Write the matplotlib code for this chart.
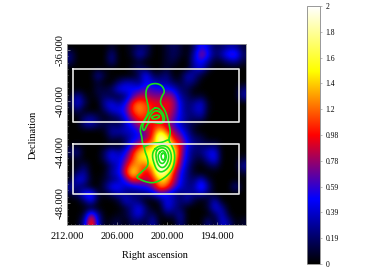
import numpy as np
import matplotlib
matplotlib.use('Agg')
import matplotlib.pyplot as plt
from matplotlib.colors import LinearSegmentedColormap
from matplotlib.ticker import MultipleLocator

# Mapa de intensidad (filas de norte a sur)
intensity = [
    [0, 0, 0, 0, 0, 0, .1, 0, 0, .1, .2, .2, 0, 0, .1, .2, .1, 0, .2, .6, .4, .15, .2, .3, .3, .1],
    [.25, 0, 0, 0, 0, 0, .3, 0, 0, .1, .4, .2, 0, 0, .1, .2, .1, 0, .35, .85, .55, .2, .35, .65, .7, .2],
    [.2, 0, 0, 0, 0, 0, .3, 0, 0, 0, .1, 0, 0, 0, .1, .15, 0, 0, .4, .55, .3, .05, .1, .25, .3, .1],
    [0, 0, 0, 0, 0, 0, 0, 0, 0, .1, .2, .1, 0, 0, .1, 0, 0, 0, .3, .45, .1, 0, 0, 0, 0, 0],
    [0, 0, 0, 0, .35, .1, 0, 0, 0, 0, .2, .6, .15, .15, .3, 0, .05, .4, .3, .1, 0, 0, 0, 0, 0, 0],
    [0, 0, 0, 0, .1, 0, 0, .2, .35, .35, .2, .5, .4, .3, .3, .15, .1, .3, .2, 0, 0, 0, 0, 0, 0, 0],
    [0, 0, 0, 0, .15, .1, .2, .5, .55, .5, .55, .7, .6, .55, .55, .45, .2, .15, 0, 0, 0, 0, 0, 0, 0, .25],
    [0, .4, .1, 0, .1, .2, .1, .1, .2, .6, .85, .85, .75, .75, .85, .75, .3, .2, .05, .1, 0, 0, 0, 0, 0, .35],
    [.1, .5, .2, 0, 0, .35, .5, .25, .5, 1.05, 1.25, 1.1, 1.0, .95, 1.0, .85, .45, .2, .3, .45, .05, 0, 0, 0, 0, 0],
    [0, .25, 0, 0, 0, .2, .45, .5, .6, 1.1, 1.3, 1.15, 1.0, .95, 1.0, .8, .45, .2, .35, .45, .05, 0, 0, 0, 0, 0],
    [0, 0, .2, .3, .15, 0, .1, .2, .5, .85, 1.1, 1.05, 1.0, 1.0, .95, .7, .45, .25, .2, .3, 0, 0, 0, 0, 0, 0],
    [0, 0, .3, .4, .2, .15, .2, .1, .35, .6, .9, .95, 1.0, 1.0, .85, .6, .35, .2, .1, 0, 0, 0, 0, 0, 0, 0],
    [0, 0, 0, 0, 0, .05, .35, .35, .4, .4, .6, .8, 1.0, 1.5, 1.1, .8, .55, .3, .05, 0, 0, 0, 0, 0, 0, 0],
    [0, 0, 0, 0, 0, 0, .2, .1, .2, .4, .5, .75, 1.1, 2.0, 1.6, .95, .8, .4, .2, .15, 0, 0, 0, 0, 0, 0],
    [0, .05, 0, 0, 0, 0, 0, 0, .2, .6, .95, 1.2, 1.3, 1.7, 1.7, 1.3, .95, .5, .25, .2, .15, .2, 0, 0, 0, 0],
    [.2, .3, 0, 0, 0, .2, .5, .3, .5, .95, 1.35, 1.5, 1.6, 2, 2, 1.6, .9, .4, .2, .25, .45, .5, 0, 0, 0, 0],
    [0, .1, 0, 0, 0, .2, .5, .4, .65, 1.05, 1.45, 1.5, 1.7, 2, 2, 1.5, .8, .4, .15, .1, .35, .55, 0, 0, 0, .1],
    [0, .05, .2, 0, 0, 0, .25, .4, .85, 1.3, 1.25, 1.1, 1.5, 2, 2, 1.3, .7, .3, .05, 0, .1, .2, 0, 0, 0, .35],
    [0, .2, .35, 0, 0, .05, .35, .45, 1.0, 1.55, 1.25, .9, 1.2, 2, 1.7, 1.0, .55, .25, .05, 0, 0, 0, 0, 0, 0, .1],
    [0, .5, .4, .05, 0, .1, .2, .3, .6, 1.05, .95, .85, 1.0, 1.4, 1.4, .9, .5, .25, .2, .45, .1, 0, 0, 0, 0, 0],
    [.35, .2, .15, 0, 0, .2, .55, .55, .35, .4, .5, .55, .75, 1.3, 1.15, .7, .45, .25, .3, .75, .3, 0, 0, 0, .35, 0],
    [.1, .2, .55, .7, .1, .05, .2, .35, .25, .2, .2, .25, .35, .6, .45, .3, .15, .35, .25, .35, .15, 0, 0, 0, 0, 0],
    [0, 0, .2, .55, .05, 0, 0, .1, .45, .3, .2, 0, 0, .15, .5, .35, .2, .35, .1, 0, .1, .4, 0, 0, 0, 0],
    [0, 0, 0, 0, 0, 0, 0, 0, .1, .3, .5, .2, 0, 0, .5, .3, .15, 0, 0, 0, .1, .5, .3, 0, 0, 0],
    [0, 0, .1, .9, .3, 0, 0, .05, .1, .3, .5, .15, .2, 0, .15, .15, .35, 0, 0, 0, 0, .15, .45, .05, 0, 0],
    [0, 0, .3, 1.25, .4, 0, .1, .15, 0, .2, .15, .1, .4, 0, 0, 0, .3, 0, 0, 0, .3, 0, .45, .3, 0, .1],
]

# Contornos verdes (RA, Dec)
outer_ra = [202.44, 202.04, 201.24, 200.56, 200.24, 200.64, 200.84, 200.24, 199.96, 199.72, 199.56, 199.82, 199.44, 199.04, 199.12, 199.64, 200.64, 201.64, 202.64, 203.52, 203.64, 203.24, 202.64, 202.24, 202.32, 202.64, 202.72, 202.96, 203.00, 203.20, 203.16, 202.84, 202.44, 202.16, 202.32, 202.56, 202.44]
outer_dec = [-39.00, -38.69, -38.61, -38.80, -39.27, -39.66, -40.18, -40.70, -41.23, -41.88, -42.53, -43.06, -43.45, -44.10, -45.02, -45.67, -46.19, -46.45, -46.33, -46.06, -45.93, -45.67, -45.35, -45.02, -44.49, -43.97, -43.58, -43.27, -42.82, -42.41, -42.01, -41.62, -41.23, -40.70, -40.18, -39.53, -39.00]
edge_ra = [202.72, 201.84, 200.64, 199.92, 199.82]
edge_dec = [-43.58, -43.31, -43.27, -43.06, -43.06]
upper2_ra = [201.64, 201.08, 200.44, 200.24, 200.60, 202.04, 202.40, 202.76, 203.00, 202.44, 201.64]
upper2_dec = [-40.57, -40.52, -40.96, -41.49, -41.80, -41.62, -41.88, -42.41, -42.01, -41.23, -40.57]
upper3_ra = [202.28, 202.04, 201.56, 200.96, 200.48, 200.48]
upper3_dec = [-41.65, -41.17, -40.78, -40.78, -41.17, -41.65]
upper4_ra = [201.84, 201.56, 201.04, 200.84, 201.24, 201.72, 201.84]
upper4_dec = [-41.31, -41.15, -41.10, -41.25, -41.41, -41.41, -41.31]
lower2_ra = [201.64, 201.04, 200.04, 199.52, 199.44, 199.84, 200.64, 201.24, 201.56, 201.76, 201.64]
lower2_dec = [-43.90, -43.53, -43.50, -43.97, -44.62, -45.27, -45.62, -45.41, -44.88, -44.37, -43.90]
lower3_ra = [201.36, 200.84, 200.16, 199.76, 199.84, 200.32, 200.84, 201.24, 201.36]
lower3_dec = [-43.97, -43.66, -43.71, -44.15, -44.76, -45.23, -45.20, -44.76, -43.97]
lower4_ra = [201.04, 200.56, 200.16, 200.04, 200.44, 200.84, 201.04, 201.04]
lower4_dec = [-44.15, -43.84, -44.05, -44.49, -44.94, -44.84, -44.49, -44.15]
lower5_ra = [200.72, 200.44, 200.16, 200.36, 200.64, 200.72]
lower5_dec = [-44.23, -44.02, -44.31, -44.68, -44.57, -44.23]

# Regiones rectangulares
box_ra = [211.28, 191.36]
box1_dec = [-37.53, -41.68]
box2_dec = [-43.41, -47.29]

ra_ticks = [212, 206, 200, 194]
dec_ticks = [-36, -40, -44, -48]
cbar_ticks = [0, .2, .4, .6, .8, 1.0, 1.2, 1.4, 1.6, 1.8, 2.0]
cbar_labels = ['0', '0.19', '0.39', '0.59', '0.78', '0.98', '1.2', '1.4', '1.6', '1.8', '2']


# Redondea las esquinas de un contorno para que no se vea quebrado
def round_corners(xs, ys, passes=2):
    p = np.column_stack([xs, ys])
    for _ in range(passes):
        a = 0.75 * p[:-1] + 0.25 * p[1:]
        b = 0.25 * p[:-1] + 0.75 * p[1:]
        mid = np.empty((2 * len(a), 2))
        mid[0::2] = a
        mid[1::2] = b
        if np.allclose(p[0], p[-1]):
            p = np.vstack([mid, mid[0]])
        else:
            p = np.vstack([p[0], mid, p[-1]])
    return p[:, 0], p[:, 1]


plt.rcParams['font.family'] = ['Liberation Serif', 'DejaVu Serif']
W, H = 374, 271
fig = plt.figure(figsize=(W / 100, H / 100), dpi=100)
ax = fig.add_axes([67 / W, 1 - 225 / H, 179 / W, 181 / H])

cmap = LinearSegmentedColormap.from_list('b', ['black', 'blue', 'red', 'yellow', 'white'])
xlim = (212.0, 190.5)
ylim = (-49.73, -35.53)
im = ax.imshow(intensity, cmap=cmap, vmin=0, vmax=2, extent=[xlim[0], xlim[1], ylim[0], ylim[1]],
               aspect='auto', interpolation='bicubic')

for xs, ys in [(outer_ra, outer_dec), (edge_ra, edge_dec), (upper2_ra, upper2_dec), (upper3_ra, upper3_dec),
               (upper4_ra, upper4_dec), (lower2_ra, lower2_dec), (lower3_ra, lower3_dec),
               (lower4_ra, lower4_dec), (lower5_ra, lower5_dec)]:
    sx, sy = round_corners(xs, ys)
    ax.plot(sx, sy, color='#18e018', lw=1.2, solid_joinstyle='round')

for box_dec in (box1_dec, box2_dec):
    ax.plot([box_ra[0], box_ra[1], box_ra[1], box_ra[0], box_ra[0]],
            [box_dec[0], box_dec[0], box_dec[1], box_dec[1], box_dec[0]], color='#e8e8e8', lw=1.2)

ax.set_xlim(xlim)
ax.set_ylim(ylim)
ax.set_xticks(ra_ticks)
ax.set_xticklabels(['%.3f' % v for v in ra_ticks], fontsize=7.5)
ax.set_yticks(dec_ticks)
ax.set_yticklabels(['%.3f' % v for v in dec_ticks], fontsize=7.5, rotation=90, va='center')
ax.xaxis.set_minor_locator(MultipleLocator(0.5))
ax.yaxis.set_minor_locator(MultipleLocator(0.5))
ax.tick_params(which='major', direction='in', length=2, width=0.4, color='#bbbbbb')
ax.tick_params(which='minor', direction='in', length=1, width=0.4, color='#bbbbbb')
ax.tick_params(axis='x', which='major', pad=5)
ax.tick_params(axis='y', which='major', pad=2)
ax.set_xlabel('Right ascension', fontsize=7.5)
ax.set_ylabel('Declination', fontsize=7.5)
ax.xaxis.set_label_coords(88 / 179, -0.144)
ax.yaxis.set_label_coords(-29 / 179, 0.5)
for s in ax.spines.values():
    s.set_color('#999999')
    s.set_linewidth(0.6)

cax = fig.add_axes([307 / W, 1 - 264 / H, 12.5 / W, 258 / H])
cb = fig.colorbar(im, cax=cax)
cb.set_ticks(cbar_ticks)
cb.set_ticklabels(cbar_labels)
cb.ax.tick_params(labelsize=5.5, length=1.5, width=0.4, color='#888888', pad=3)
cb.outline.set_edgecolor('#888888')
cb.outline.set_linewidth(0.6)

fig.savefig('out.png', dpi=100)
